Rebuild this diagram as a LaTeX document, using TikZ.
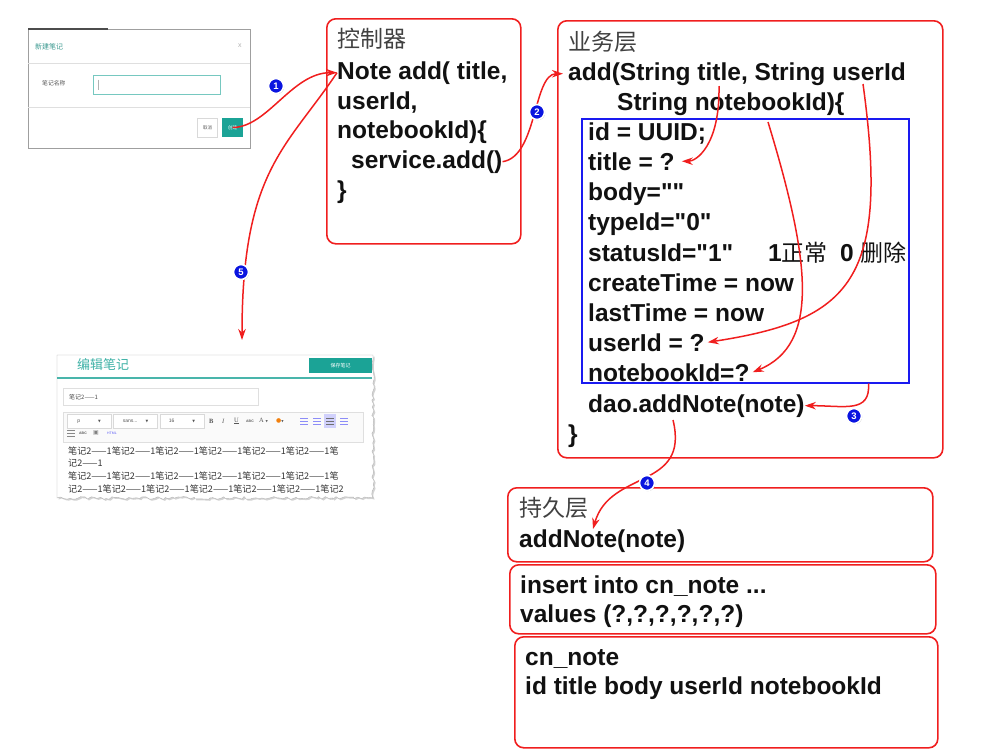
\documentclass[tikz,border=0pt]{standalone}
\usepackage{fontspec}
\setmainfont{Liberation Sans}[Ligatures=TeXOff]
\newfontfamily\cjk{Noto Sans CJK SC}
\newfontfamily\sym{DejaVu Sans}
\newfontfamily\uiserif{Liberation Serif}
\usepackage{tikz}
\usetikzlibrary{arrows.meta,positioning,calc,shadows,decorations.pathmorphing}
\definecolor{Ink}{HTML}{111111}
\definecolor{Crimson}{HTML}{F01E1E}
\definecolor{Frame}{HTML}{1A1AF0}
\definecolor{Badge}{HTML}{0A14E0}
\definecolor{Teal}{HTML}{1BA396}
\definecolor{Muted}{HTML}{555555}
\tikzset{
  >={Stealth[length=11pt,width=7.5pt]},
  layer/.style={draw=Crimson,line width=1.6pt,rounded corners=9pt,anchor=north west,inner sep=0pt},
  codeln/.style={anchor=base west,inner sep=0pt,text=Ink,font=\fontsize{24.5}{30}\selectfont\bfseries},
  head/.style={anchor=west,inner sep=0pt,text=Ink!80,font=\fontsize{23}{28}\selectfont\cjk},
  flow/.style={->,draw=Crimson,line width=1.5pt},
  badge/.style={circle,fill=Badge,draw=white,line width=1.6pt,minimum size=15pt,inner sep=0pt,text=white,
    font=\fontsize{9.5}{10}\selectfont\bfseries,drop shadow={opacity=.5,shadow xshift=.7pt,shadow yshift=-.7pt}},
  uitext/.style={inner sep=0pt,anchor=west,text=Muted,font=\fontsize{5}{6}\selectfont},
  uicjk/.style={uitext,font=\fontsize{6}{7}\selectfont\cjk},
  notetext/.style={uitext,text=Ink!85,font=\fontsize{9.1}{10}\selectfont\cjk},
  ddbox/.style={draw=gray!30,fill=white,minimum width=44pt,minimum height=14pt,anchor=north west,inner sep=0pt,
    text=Muted,font=\fontsize{5}{6}\selectfont},
  tealbtn/.style={fill=Teal,text=white,inner sep=0pt,font=\fontsize{5}{6}\selectfont\cjk}
}

\begin{document}
\begin{tikzpicture}[x=1pt,y=-1pt]
  \useasboundingbox (0,0) rectangle (984,755);

  % dialog screenshot
  \draw[draw=gray!75,line width=.8pt,fill=white,drop shadow={opacity=.3,shadow xshift=1pt,shadow yshift=-1pt}] (28,29) rectangle (250,148);
  \draw[line width=1.5pt,Ink!75] (28,29) -- (108,29);
  \node[uicjk,text=Teal!70!gray,font=\fontsize{7}{8}\selectfont\cjk] (dlgTitle) at (35,47) {新建笔记};
  \node[uitext,text=gray!60,font=\fontsize{7}{8}\selectfont] (dlgClose) at (238,46) {x};
  \draw[gray!25] (28,63) -- (250,63);
  \node[uicjk,font=\fontsize{5.8}{7}\selectfont\cjk] (dlgLabel) at (42,83) {笔记名称};
  \node[draw=Teal!60,fill=white,minimum width=127pt,minimum height=19pt,anchor=north west,inner sep=0pt] (dlgInput) at (93,75) {};
  \draw[gray!60] ($(dlgInput.west)+(5,-5)$) -- ($(dlgInput.west)+(5,5)$);
  \draw[gray!25] (28,107) -- (250,107);
  \node[draw=gray!30,fill=white,minimum width=20pt,minimum height=19pt,inner sep=0pt,text=Muted,font=\fontsize{4.5}{5}\selectfont\cjk] (btnCancel) at (207.5,127.5) {取消};
  \node[tealbtn,minimum width=21pt,minimum height=19pt,font=\fontsize{4.5}{5}\selectfont\cjk] (btnOk) at (232.5,127.5) {创建};

  % editor screenshot with torn edge
  \pgfmathsetseed{11}
  \draw[draw=gray!60,fill=white,drop shadow={opacity=.35,shadow xshift=1.5pt,shadow yshift=-1.5pt},
    decoration={random steps,segment length=3pt,amplitude=1.4pt}]
    (57,355) -- (373,355) decorate{ -- (373,498) -- (57,498)} -- cycle;
  \node[uitext,text=Teal!85,font=\fontsize{13}{14}\selectfont\cjk] (edTitle) at (77,365) {编辑笔记};
  \node[tealbtn,minimum width=63pt,minimum height=15pt,anchor=north west] (btnSave) at (309,358) {保存笔记};
  \draw[Teal!80,line width=1.5pt] (57,378) -- (372,378);
  \node[draw=gray!25,minimum width=195pt,minimum height=17pt,anchor=north west,inner sep=0pt] (edInput) at (63,388) {};
  \node[uicjk,text=Ink!75] (edInputTxt) at (69,397) {笔记2——1};
  \node[draw=gray!25,fill=gray!4,minimum width=300pt,minimum height=30pt,anchor=north west,inner sep=0pt] (edBar) at (63,412) {};
  \node[ddbox] (ddPara) at (67,414) {p\hspace{18pt}{\sym\fontsize{3.5}{4}\selectfont▼}};
  \node[ddbox,right=2pt of ddPara] (ddFont) {sans...\hspace{8pt}{\sym\fontsize{3.5}{4}\selectfont▼}};
  \node[ddbox,right=2pt of ddFont] (ddSize) {16\hspace{18pt}{\sym\fontsize{3.5}{4}\selectfont▼}};
  \node[uitext,text=Ink!70,font=\fontsize{6.5}{7}\selectfont\uiserif\bfseries] (tbB) at (209,421) {B};
  \node[uitext,text=Ink!70,font=\fontsize{6.5}{7}\selectfont\uiserif\itshape] (tbI) at (222,421) {I};
  \node[uitext,text=Ink!70,font=\fontsize{6.5}{7}\selectfont\uiserif] (tbU) at (234,421) {\underline{U}};
  \node[uitext,text=Ink!70,font=\fontsize{3.5}{4}\selectfont\bfseries] (tbS) at (246,421) {ABC};
  \node[uitext,text=Ink!70,font=\fontsize{6.5}{7}\selectfont\uiserif] (tbA) at (259,421) {A {\sym\fontsize{3}{4}\selectfont▼}};
  \node[uitext,text=orange!80!brown,font=\fontsize{6}{7}\selectfont\sym] (tbColor) at (276,421) {●{\color{Muted}\fontsize{3}{4}\selectfont▼}};
  \foreach \x in {300,313,340} \foreach \y in {418,421,424} \draw[Frame!50,line width=.8pt] (\x,\y) -- ++(8,0);
  \fill[Frame!20] (324,414) rectangle (336,428);
  \foreach \y in {418,421,424} \draw[Ink!60,line width=.8pt] (326,\y) -- ++(8,0);
  \foreach \y in {430,433,436} \draw[Ink!50,line width=.8pt] (67,\y) -- ++(8,0);
  \node[uitext,font=\fontsize{3.5}{4}\selectfont\bfseries] (tbSub) at (79,433) {ABC};
  \node[uitext,font=\fontsize{6}{7}\selectfont\sym,text=gray] (tbImg) at (93,433) {▣};
  \node[uitext,text=Frame!70,font=\fontsize{3.5}{4}\selectfont] (tbHtml) at (107,433) {HTML};
  \node[notetext] (ln1) at (68,451) {笔记2——1笔记2——1笔记2——1笔记2——1笔记2——1笔记2——1笔};
  \node[notetext] (ln2) at (68,463) {记2——1};
  \node[notetext] (ln3) at (68,476) {笔记2——1笔记2——1笔记2——1笔记2——1笔记2——1笔记2——1笔};
  \node[notetext] (ln4) at (68,489) {记2——1笔记2——1笔记2——1笔记2——1笔记2——1笔记2——1笔记2};

  % layer boxes
  \node[layer,minimum width=194pt,minimum height=225pt] (ctrl) at (326,18) {};
  \node[layer,minimum width=385pt,minimum height=437pt] (biz) at (557,20) {};
  \node[draw=Frame,line width=1.5pt,minimum width=327pt,minimum height=264pt,anchor=north west,inner sep=0pt] (blue) at (581,118) {};
  \node[layer,minimum width=425pt,minimum height=74pt] (pers) at (507,487) {};
  \node[layer,minimum width=426pt,minimum height=69pt] (sql) at (509,564) {};
  \node[layer,minimum width=423pt,minimum height=111pt] (tbl) at (514,636) {};

  % controller
  \node[head] (cHead) at (337,39) {控制器};
  \node[codeln] (cSig) at (337,79) {Note add( title,};
  \node[codeln] (cUser) at (337,109) {userId,};
  \node[codeln] (cBook) at (337,138) {notebookId)\{};
  \node[codeln] (cSvc) at (351,168) {service.add()};
  \node[codeln] (cEnd) at (337,198) {\}};

  % service
  \node[head] (bHead) at (568,42) {业务层};
  \node[codeln] (bSig) at (568,80) {add(String title, String userId};
  \node[codeln] (bSig2) at (617,110) {String notebookId)\{};
  \node[codeln] (bId) at (588,140) {id = UUID;};
  \node[codeln] (bTitle) at (588,170) {title = ?};
  \node[codeln] (bBody) at (588,200) {body=""};
  \node[codeln] (bType) at (588,230) {typeId="0"};
  \node[codeln] (bStatus) at (588,261) {statusId="1"};
  \node[codeln] (bStatusA) at (768,261) {1{\cjk\mdseries\fontsize{23}{28}\selectfont 正常}};
  \node[codeln] (bStatusB) at (840,261) {0 {\cjk\mdseries\fontsize{23}{28}\selectfont 删除}};
  \node[codeln] (bCreate) at (588,291) {createTime = now};
  \node[codeln] (bLast) at (588,321) {lastTime = now};
  \node[codeln] (bUser) at (588,351) {userId = ?};
  \node[codeln] (bBook) at (588,381) {notebookId=?};
  \node[codeln] (bDao) at (588,412) {dao.addNote(note)};
  \node[codeln] (bEnd) at (568,442) {\}};

  % dao, sql, table
  \node[head] (pHead) at (519,508) {持久层};
  \node[codeln] (pSig) at (519,547) {addNote(note)};
  \node[codeln] (sIns) at (520,593) {insert into cn\_note ...};
  \node[codeln] (sVal) at (520,622) {values (?,?,?,?,?,?)};
  \node[codeln] (tName) at (525,665) {cn\_note};
  \node[codeln] (tCols) at (525,694) {id title body userId notebookId};

  % connectors
  \coordinate (editTop) at (242,340);
  \coordinate (srcTitle) at (719,86);
  \coordinate (srcUser) at (863,84);
  \coordinate (srcBook) at (768,122);
  \coordinate (bxOut) at ($(blue.south east)+(-41,0)$);
  \coordinate (daoOut) at ($(bDao.base west)+(85,8)$);
  \draw[flow] (btnOk.center) .. controls +(35,0) and +(-45,0) .. (cSig.west);
  \draw[flow] (cSig.west) .. controls +(-50,75) and +(0,-170) .. (editTop);
  \draw[flow] (cSvc.east) .. controls +(35,-5) and +(-30,0) .. ($(bSig.west)+(-5,0)$);
  \draw[flow] (srcTitle) .. controls +(1,60) and +(14,0) .. ($(bTitle.east)+(7,0)$);
  \draw[flow] (srcUser) .. controls +(27,196) and +(143,-22) .. ($(bUser.east)+(3,0)$);
  \draw[flow] (srcBook) .. controls +(42,138) and +(68,-28) .. ($(bBook.east)+(3,0)$);
  \draw[flow] (bxOut) .. controls +(2,30) and +(40,0) .. (bDao.east);
  \draw[flow] (daoOut) .. controls +(17,70) and +(17,-60) .. ($(pSig.north west)+(74,0)$);

  % step badges
  \node[badge] (n1) at (276,86) {1};
  \node[badge] (n2) at (537,112) {2};
  \node[badge] (n3) at (854,416) {3};
  \node[badge] (n4) at (647,483) {4};
  \node[badge] (n5) at (241,272) {5};
\end{tikzpicture}
\end{document}
